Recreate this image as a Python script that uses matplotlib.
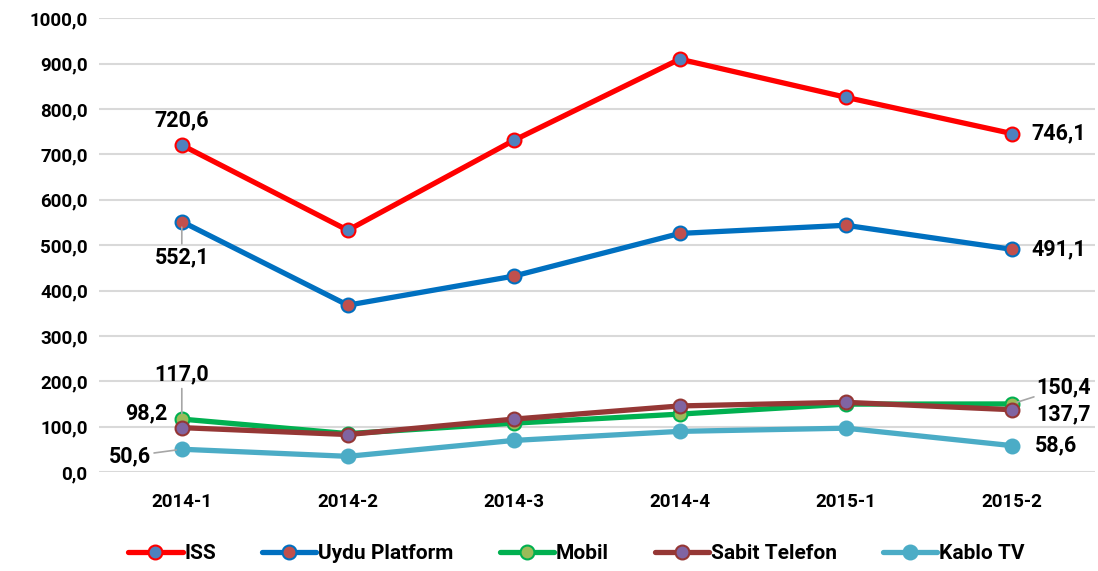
import matplotlib.pyplot as plt
import numpy as np

periods = ["2014-1", "2014-2", "2014-3", "2014-4", "2015-1", "2015-2"]
iss = [720.6, 533.0, 731.0, 910.0, 826.0, 746.1]
uydu = [552.1, 368.0, 432.0, 526.0, 544.0, 491.1]
mobil = [117.0, 85.0, 108.0, 128.0, 150.0, 150.4]
sabit = [98.2, 83.0, 117.0, 146.0, 154.0, 137.7]
kablo = [50.6, 35.0, 70.0, 90.0, 97.0, 58.6]

plt.rcParams['font.family'] = ['Roboto', 'DejaVu Sans']
fig = plt.figure(figsize=(10.98, 5.71), dpi=100)
ax = fig.add_axes([0.090, 0.173, 0.907, 0.795])

series = [
    ("ISS", iss, "#FF0000", "#4F81BD"),
    ("Uydu Platform", uydu, "#0070C0", "#C0504D"),
    ("Mobil", mobil, "#00B050", "#9BBB59"),
    ("Sabit Telefon", sabit, "#953735", "#8064A2"),
    ("Kablo TV", kablo, "#4BACC6", "#4BACC6"),
]
x = np.arange(len(periods))
for name, vals, lc, fc in series:
    ax.plot(x, vals, color=lc, lw=3.8, marker="o", ms=10, mfc=fc, mec=lc,
            mew=1.5, label=name, solid_capstyle="round")

ax.set_xlim(-0.5, len(periods) - 0.5)
ax.set_ylim(0, 1000)
ax.set_yticks(np.arange(0, 1001, 100))
ax.set_yticklabels([f"{v:.1f}".replace(".", ",") for v in np.arange(0, 1001, 100)])
ax.set_xticks(x)
ax.set_xticklabels(periods)
ax.tick_params(axis="y", length=0, labelsize=13.5, pad=8)
ax.tick_params(axis="x", length=0, labelsize=13.5, pad=15)
for lab in ax.get_xticklabels() + ax.get_yticklabels():
    lab.set_fontweight("bold")
ax.grid(axis="y", color="#D9D9D9", lw=1.5)
ax.set_axisbelow(True)
for s in ax.spines.values():
    s.set_visible(False)

def fmt(v):
    return f"{v:.1f}".replace(".", ",")

lbl = dict(fontsize=15.5, fontweight="bold", color="black")
lead = dict(arrowstyle="-", color="#A6A6A6", lw=1.2, shrinkA=0, shrinkB=4)
n = len(periods) - 1

ax.annotate(fmt(iss[0]), (0, iss[0]), xytext=(0, 18), textcoords="offset points",
            ha="center", va="center", **lbl)
ax.annotate(fmt(uydu[0]), (0, uydu[0]), xytext=(0, -18), textcoords="offset points",
            ha="center", va="top", arrowprops=lead, **lbl)
ax.annotate(fmt(mobil[0]), (0, mobil[0]), xytext=(0, 24), textcoords="offset points",
            ha="center", va="bottom", arrowprops=lead, **lbl)
ax.annotate(fmt(sabit[0]), (0, sabit[0]), xytext=(-10, 10), textcoords="offset points",
            ha="right", va="center", **lbl)
ax.annotate(fmt(kablo[0]), (0, kablo[0]), xytext=(-22, -5), textcoords="offset points",
            ha="right", va="center", arrowprops=lead, **lbl)

ax.annotate(fmt(iss[n]), (n, iss[n]), xytext=(14, 0), textcoords="offset points",
            ha="left", va="center", **lbl)
ax.annotate(fmt(uydu[n]), (n, uydu[n]), xytext=(14, 0), textcoords="offset points",
            ha="left", va="center", **lbl)
ax.annotate(fmt(mobil[n]), (n, mobil[n]), xytext=(18, 12), textcoords="offset points",
            ha="left", va="center", arrowprops=lead, **lbl)
ax.annotate(fmt(sabit[n]), (n, sabit[n]), xytext=(18, -3), textcoords="offset points",
            ha="left", va="center", **lbl)
ax.annotate(fmt(kablo[n]), (n, kablo[n]), xytext=(17, 0), textcoords="offset points",
            ha="left", va="center", **lbl)

fig.legend(loc="center", bbox_to_anchor=(0.525, 0.030), ncol=5, frameon=False,
           prop=dict(size=15, weight="bold"), handlelength=2.6,
           handletextpad=0.1, columnspacing=2.2)
plt.savefig("out.png", dpi=100)
